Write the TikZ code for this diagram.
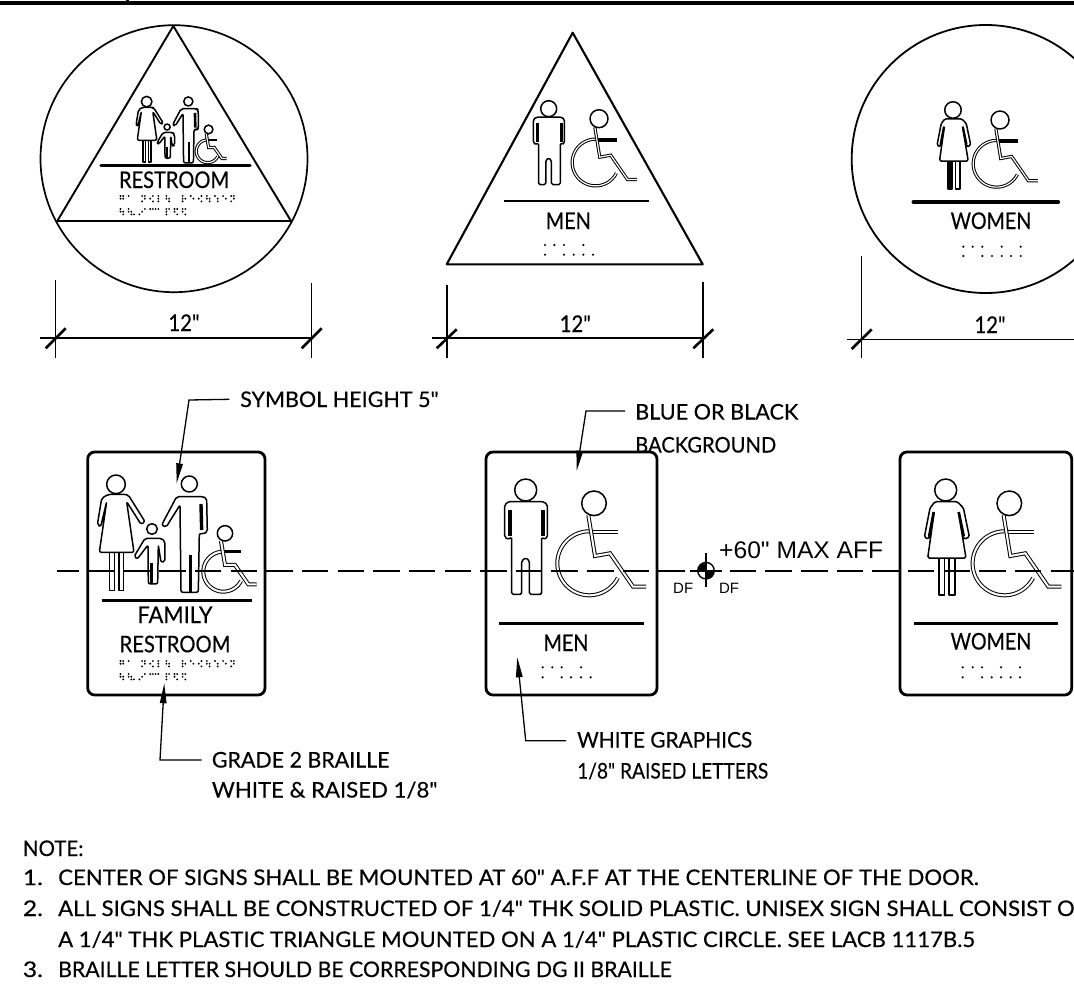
\documentclass[tikz,border=0pt]{standalone}
\usepackage{graphicx}
\usepackage{fontspec}
\newfontfamily\lato{Lato}[FakeBold=0.35]
\newfontfamily\arialfont{Liberation Sans}
\usetikzlibrary{arrows.meta}
\newcommand{\fitw}[2]{\resizebox{#1pt}{\height}{#2}}
\tikzset{
  lbl/.style={inner sep=0pt,anchor=base west,font=\lato\fontsize{21.5}{24}\selectfont},
  signtxt/.style={inner sep=0pt,anchor=base,font=\lato\fontsize{23}{26}\selectfont},
  leader/.style={draw=black,line width=1.3pt,-{Triangle[length=20pt,width=6.5pt]}},
  signbox/.style={draw=black,line width=2.8pt,rounded corners=7pt,fill=white},
  outlinefig/.style={draw=black,line width=1.5pt,line join=round,fill=white},
  chairbig/.style={draw=black,line width=1pt,double=white,double distance=2pt,line join=miter},
  chairsmall/.style={draw=black,line width=1pt,double=white,double distance=1.2pt,line join=miter},
  armbig/.style={chairbig},
  armsmall/.style={draw=black,line width=3.4pt},
  sheetline/.style={draw=black,line width=1.9pt},
  rulebar/.style={draw=black,line width=3.2pt},
  dimext/.style={draw=black,line width=1.5pt},
  dimline/.style={draw=black,line width=2pt},
  dimtick/.style={draw=black,line width=2.6pt},
  brailledot/.style={fill=black},
}
% man: origin at head centre
\newcommand{\manfig}[4]{\begin{scope}[shift={(#1,#2)},scale=#3]
 \draw[outlinefig] (0,0) circle[radius=11];
 \draw[outlinefig,rounded corners=1.5pt] (-21,15) -- (-21,47) -- (-17.5,49.5) -- (-14,47) -- (-14,104.3) -- (-4,104.3) -- (-4,71) -- (0,67.7) -- (3.7,71) -- (3.7,104.3) -- (16,104.3) -- (16,47) -- (18.5,49.5) -- (21.7,47) -- (21.7,15) -- (18,11.7) -- (-17.5,11.7) -- cycle;
 \draw[draw=black,line width=#4] (-16,20) -- (-16,46);
 \draw[draw=black,line width=#4] (17,20) -- (17,46);
\end{scope}}
% woman: origin at head centre
\newcommand{\womanfig}[5]{\begin{scope}[shift={(#1,#2)},scale=#3]
 \draw[outlinefig] (0,0) circle[radius=11];
 \draw[outlinefig,fill=#5] (-6.7,68) rectangle (-1.3,105);
 \draw[outlinefig] (3.3,68) rectangle (9.3,105);
 \draw[outlinefig,rounded corners=1.5pt] (-10.7,11.7) -- (-15.7,18) -- (-21.3,47) -- (-17.3,49.3) -- (-11.5,22) -- (-18,68) -- (20.3,68) -- (12.7,22) -- (18.3,49.3) -- (23.7,47) -- (17.7,18) -- (11.7,11.7) -- cycle;
 \draw[draw=black,line width=#4] (-12,22) -- (-16.5,46);
 \draw[draw=black,line width=#4] (13,22) -- (18,46);
\end{scope}}
% wheelchair: origin at head centre
\newcommand{\chairfig}[5]{\begin{scope}[shift={(#1,#2)},scale=#3]
 \draw[#4] plot[domain=-333:-90,samples=50] ({-4.7+32*cos(\x)},{60+32*sin(\x)});
 \draw[#5] (-3.3,29) -- (24.3,29);
 \draw[#4] (-5.7,11.7) -- (1,52.7) -- (16,50) -- (39,83.3) -- (52,83.3);
 \draw[draw=black,line width=1.5pt,fill=white] (0,0) circle[radius=12.3];
\end{scope}}
% family group, drawn in 3x units
\newcommand{\familyfig}[5]{\begin{scope}[shift={(#1,#2)},scale=#3]
 % woman
 \draw[outlinefig] (168,163) circle[radius=28];
 \draw[outlinefig] (148,367) rectangle (163,481);
 \draw[outlinefig] (177,367) rectangle (190,481);
 \draw[outlinefig,rounded corners=2pt] (145,193) -- (125,205) -- (112,285) -- (122,290) -- (140,215) -- (118,367) -- (222,367) -- (200,215) -- (243,283) -- (255,275) -- (205,195) -- (195,193) -- cycle;
 % man
 \draw[outlinefig] (388,162) circle[radius=24];
 \draw[outlinefig,rounded corners=2pt] (350,200) -- (305,285) -- (318,292) -- (360,225) -- (363,487) -- (415,487) -- (418,310) -- (432,312) -- (442,305) -- (440,205) -- (430,200) -- cycle;
 \draw[draw=black,line width=#4] (391,375) -- (391,485);
 \draw[draw=black,line width=#4] (423,222) -- (425,300);
 % child
 \draw[outlinefig] (276,297) circle[radius=16];
 \draw[outlinefig,rounded corners=2pt] (255,325) -- (222,380) -- (232,387) -- (264,345) -- (265,462) -- (293,462) -- (295,345) -- (303,397) -- (315,395) -- (315,335) -- (305,325) -- cycle;
 \draw[draw=black,line width=#4] (275,400) -- (275,460);
 % wheelchair
 \draw[#5] plot[domain=-333:-90,samples=50] ({490+60*cos(\x)},{425+60*sin(\x)});
 \draw[draw=black,line width=#4] (490,365) -- (542,365);
 \draw[#5] (483,333) -- (495,405) -- (525,405) -- (565,463) -- (590,463);
 \draw[draw=black,line width=1.5pt,fill=white] (495,310) circle[radius=23];
\end{scope}}
% braille block, origin top-left of first line
\newcommand{\brailleblock}[2]{\begin{scope}[shift={(#1,#2)}]
 \foreach \c/\r in {0/0,0/1,1/0,1/1,3/0,8/0,8/2,9/0,9/1,11/1,12/0,12/2,14/0,14/1,14/2,17/0,17/1,18/1,18/2,23/0,23/1,23/2,24/1,26/0,27/1,29/1,30/0,30/2,32/0,32/1,33/1,33/2,35/0,36/1,36/2,38/0,39/1,41/0,41/2,42/0,42/1}
   \fill[brailledot] (2.7*\c,2.7*\r) circle[radius=1.05];
 \foreach \c/\r in {0/1,0/0,1/1,1/2,3/0,3/1,4/1,4/2,5/2,7/2,8/1,9/0,11/0,12/0,13/0,14/0,17/0,17/1,17/2,18/0,20/0,20/1,21/0,21/2,23/0,23/1,24/0,24/2}
   \fill[brailledot] (2.7*\c,13+2.7*\r) circle[radius=1.05];
\end{scope}}
\newcommand{\dotsrow}[2]{\foreach \px in {#2} \fill[brailledot] (\px,#1) circle[radius=1.2];}
\begin{document}
\begin{tikzpicture}[x=1pt,y=-1pt]
\useasboundingbox (0,0) rectangle (1074,990);
\clip (0,0) rectangle (1074,990);
\fill[white] (0,0) rectangle (1074,990);
% header rule
\coordinate (hl) at (0,3); \coordinate (hr) at (1074,3);
\draw[draw=black,line width=4pt] (hl) -- (hr);
\coordinate (st) at (127,0); \coordinate (sb) at (127,3);
\draw[draw=black,line width=3pt] (st) -- (sb);

% ---------- top row: unisex
\node[draw=black,line width=1.7pt,circle,minimum size=267pt,inner sep=0pt] (ucirc) at (174,158.7) {};
\coordinate (ua) at (173.3,26); \coordinate (ub) at (57.3,221); \coordinate (uc) at (291,221);
\draw[draw=black,line width=1.9pt,line join=round] (ua) -- (ub) -- (uc) -- cycle;
\familyfig{114.87}{70.8}{.1893}{2.6pt}{chairsmall}
\coordinate (ur1) at (101,165.7); \coordinate (ur2) at (250,165.7);
\draw[rulebar,line cap=round] (ur1) -- (ur2);
\node[signtxt] (utxt) at (174,188) {\fitw{110}{RESTROOM}};
\brailleblock{120.5}{196}

% ---------- top row: men
\coordinate (ma) at (572.7,32.7); \coordinate (mb) at (446.7,264.3); \coordinate (mc) at (702.7,264.3);
\draw[draw=black,line width=2.1pt,line join=round] (ma) -- (mb) -- (mc) -- cycle;
\manfig{548.7}{108.7}{.727}{3pt}
\chairfig{599}{118.7}{.73}{chairsmall}{armsmall}
\coordinate (mr1) at (504,201); \coordinate (mr2) at (649.3,201);
\draw[draw=black,line width=1.8pt] (mr1) -- (mr2);
\node[signtxt] (mtxt) at (568.3,229) {\fitw{45}{MEN}};
\dotsrow{245}{545,554.3,564,583.3}
\dotsrow{254.7}{545,564,573.7,583.3,593}

% ---------- top row: women
\node[draw=black,line width=1.8pt,circle,minimum size=268pt,inner sep=0pt] (wcirc) at (985.7,159) {};
\womanfig{953}{110}{.75}{2.2pt}{black}
\chairfig{1000}{120}{.73}{chairsmall}{armsmall}
\coordinate (wr1) at (913.3,202); \coordinate (wr2) at (1058.3,202);
\draw[rulebar,line width=3.6pt,line cap=round] (wr1) -- (wr2);
\node[signtxt] (wtxt) at (991,229) {\fitw{80.7}{WOMEN}};
\dotsrow{246.7}{963.3,972.7,982.3,1001.7,1020.7}
\dotsrow{256}{963.3,982.3,992,1001.7,1011,1020.7}

% ---------- dimensions
\coordinate (d1a) at (55.7,280); \coordinate (d1b) at (55.7,358);
\coordinate (d1c) at (311.3,283); \coordinate (d1d) at (311.3,358);
\coordinate (d1e) at (40,338.3); \coordinate (d1f) at (311.3,338.3);
\coordinate (d1g) at (45.7,348.3); \coordinate (d1h) at (65.7,328.3);
\coordinate (d1i) at (301.7,348.3); \coordinate (d1j) at (321.7,328.3);
\draw[dimext] (d1a) -- (d1b); \draw[dimext,line width=1.1pt] (d1c) -- (d1d);
\draw[dimline] (d1e) -- (d1f);
\draw[dimtick] (d1g) -- (d1h); \draw[dimtick] (d1i) -- (d1j);
\node[signtxt] (d1t) at (184,331) {\fitw{31}{12"}};

\coordinate (d2a) at (447,285); \coordinate (d2b) at (447,358);
\coordinate (d2c) at (702.7,281.7); \coordinate (d2d) at (702.7,358);
\coordinate (d2e) at (432,338.3); \coordinate (d2f) at (702.7,338.3);
\coordinate (d2g) at (436.7,348.3); \coordinate (d2h) at (456.7,329.3);
\coordinate (d2i) at (693.3,348.3); \coordinate (d2j) at (713.3,329.3);
\draw[dimext,line width=1.1pt] (d2a) -- (d2b); \draw[dimext,line width=1.9pt] (d2c) -- (d2d);
\draw[dimline] (d2e) -- (d2f);
\draw[dimtick] (d2g) -- (d2h); \draw[dimtick] (d2i) -- (d2j);
\node[signtxt] (d2t) at (575.3,332) {\fitw{31}{12"}};

\coordinate (d3a) at (861.7,256); \coordinate (d3b) at (861.7,358);
\coordinate (d3e) at (846.7,339); \coordinate (d3f) at (1074,339);
\coordinate (d3g) at (851.7,349); \coordinate (d3h) at (871.7,329.3);
\draw[dimext,line width=1pt] (d3a) -- (d3b);
\draw[dimext,line width=1pt] (d3e) -- (d3f);
\draw[dimtick] (d3g) -- (d3h);
\node[signtxt] (d3t) at (990,333) {\fitw{31}{12"}};

% ---------- rectangular signs
\node[signbox,minimum width=177.3pt,minimum height=243pt,inner sep=0pt] (famsign) at (176.35,573.5) {};
\node[signbox,minimum width=171pt,minimum height=243pt,inner sep=0pt] (mensign) at (571.5,573.5) {};
\node[signbox,minimum width=171.7pt,minimum height=243pt,inner sep=0pt] (womsign) at (985.85,573.5) {};

\familyfig{60}{430}{.3333}{3.4pt}{chairbig}
\coordinate (fr1) at (101.7,600.3); \coordinate (fr2) at (251.7,600.3);
\draw[rulebar] (fr1) -- (fr2);
\node[signtxt] (ftxt1) at (175,623) {\fitw{75}{FAMILY}};
\node[signtxt] (ftxt2) at (175,652.3) {\fitw{110.7}{RESTROOM}};
\brailleblock{120.5}{661}

\manfig{525.7}{490}{1}{3.6pt}
\chairfig{594}{503.3}{1}{chairbig}{armbig}
\coordinate (mb1) at (499.3,623.3); \coordinate (mb2) at (644,623.3);
\draw[rulebar] (mb1) -- (mb2);
\node[signtxt] (mbtxt) at (566,651) {\fitw{45}{MEN}};
\dotsrow{667.3}{542.7,552.3,561.7,581}
\dotsrow{677.3}{542.7,561.7,571,581,590.7}

\womanfig{945.7}{490}{1}{2.6pt}{white}
\chairfig{1009.3}{503.3}{1}{chairbig}{armbig}
\coordinate (wb1) at (914,623.3); \coordinate (wb2) at (1058.3,623.3);
\draw[rulebar] (wb1) -- (wb2);
\node[signtxt] (wbtxt) at (991,649.5) {\fitw{80.7}{WOMEN}};
\dotsrow{667.3}{962.7,972.7,982,1001,1020}
\dotsrow{677.3}{962.7,982,991.7,1001,1010.7,1020}

% ---------- centre line
\coordinate (cl1) at (57,570.7); \coordinate (cl2) at (1074,570.7);
\draw[sheetline,dash pattern=on 26.5pt off 9.15pt,dash phase=4.65pt] (cl1) -- (cl2);

% centre mark
\coordinate (cm) at (706,570.7);
\node[circle,draw=black,line width=1.4pt,fill=white,minimum size=16.5pt,inner sep=0pt] (cmark) at (cm) {};
\fill[black] (698,570.7) -- (706,570.7) -- (706,562.7) -- (700.3,565) -- cycle;
\fill[black] (714,570.7) -- (706,570.7) -- (706,578.7) -- (711.7,576.4) -- cycle;
\coordinate (cmt) at (706,553); \coordinate (cmb) at (706,587);
\coordinate (cml) at (690,570.7); \coordinate (cmr) at (722,570.7);
\draw[draw=black,line width=1.1pt] (cmt) -- (cmb);
\draw[sheetline] (cml) -- (cmr);
\node[inner sep=0pt,font=\arialfont\fontsize{15}{17}\selectfont] (df1) at (683.2,588.5) {DF};
\node[inner sep=0pt,font=\arialfont\fontsize{15}{17}\selectfont] (df2) at (729,588.5) {DF};
\node[lbl,font=\arialfont\fontsize{24}{27}\selectfont] (aff) at (719,558.3) {\fitw{164}{+60" MAX AFF}};

% ---------- leaders
\node[lbl] (t1) at (240,407) {\fitw{198.3}{SYMBOL HEIGHT 5"}};
\coordinate (l1a) at (229.3,399.3); \coordinate (l1b) at (189,400); \coordinate (l1c) at (176.7,483.3);
\draw[leader] (l1a) -- (l1b) -- (l1c);

\node[lbl] (t2) at (635,419.5) {\fitw{163}{BLUE OR BLACK}};
\node[lbl] (t3) at (635,452.5) {\fitw{141}{BACKGROUND}};
\coordinate (l2a) at (625,411); \coordinate (l2b) at (586,411); \coordinate (l2c) at (576.7,470.7);
\draw[leader] (l2a) -- (l2b) -- (l2c);

\node[lbl] (t4) at (211.7,767.5) {\fitw{177.6}{GRADE 2 BRAILLE}};
\node[lbl] (t5) at (211.7,797.5) {\fitw{225.6}{WHITE \& RAISED 1/8"}};
\coordinate (l3a) at (201.7,760); \coordinate (l3b) at (160,760); \coordinate (l3c) at (164.3,683.3);
\draw[leader] (l3a) -- (l3b) -- (l3c);

\node[lbl] (t6) at (577,747.5) {\fitw{175}{WHITE GRAPHICS}};
\node[lbl] (t7) at (577,778.5) {\fitw{191}{1/8" RAISED LETTERS}};
\coordinate (l4a) at (566,740.7); \coordinate (l4b) at (525.7,740.7); \coordinate (l4c) at (517.3,657.3);
\draw[leader] (l4a) -- (l4b) -- (l4c);

% ---------- notes
\node[lbl] (n0) at (22.7,856) {\fitw{60.5}{NOTE:}};
\node[lbl] (n1a) at (22.7,885) {\fitw{20}{1.}};
\node[lbl] (n1) at (58,885) {\fitw{920.3}{CENTER OF SIGNS SHALL BE MOUNTED AT 60" A.F.F AT THE CENTERLINE OF THE DOOR.}};
\node[lbl] (n2a) at (22.7,916) {\fitw{20}{2.}};
\node[lbl] (n2) at (58,916) {\fitw{1016}{ALL SIGNS SHALL BE CONSTRUCTED OF 1/4" THK SOLID PLASTIC. UNISEX SIGN SHALL CONSIST O}};
\node[lbl] (n3) at (58,947) {\fitw{916.7}{A 1/4" THK PLASTIC TRIANGLE MOUNTED ON A 1/4" PLASTIC CIRCLE. SEE LACB 1117B.5}};
\node[lbl] (n4a) at (22.7,977) {\fitw{20}{3.}};
\node[lbl] (n4) at (58,977) {\fitw{613.3}{BRAILLE LETTER SHOULD BE CORRESPONDING DG II BRAILLE}};
\end{tikzpicture}
\end{document}
